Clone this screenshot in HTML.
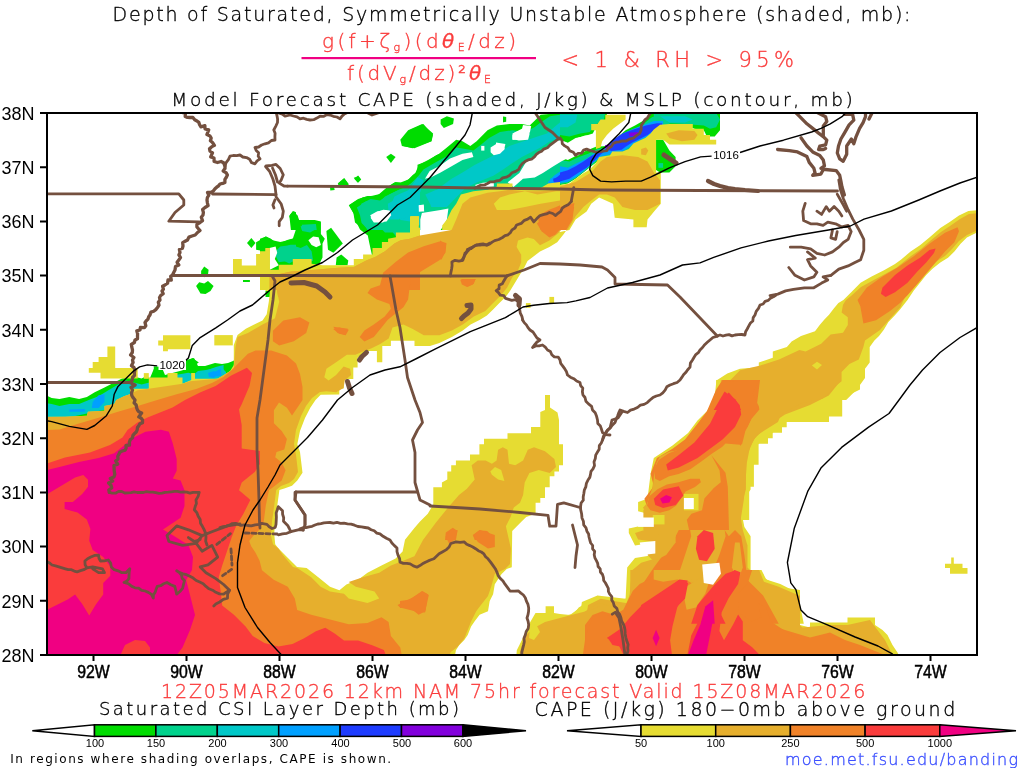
<!DOCTYPE html>
<html><head><meta charset="utf-8"><title>CSI Banding</title>
<style>
html,body{margin:0;padding:0;background:#fff;}
svg{display:block;}
text{font-family:"Liberation Sans",sans-serif;}
.h{font-family:"DejaVu Sans","Liberation Sans",sans-serif;font-weight:200;stroke-width:0.35;}
.t.h{stroke:#000;}
.r.h{stroke:#fa3c3c;}
.b4{font-family:"DejaVu Sans","Liberation Sans",sans-serif;font-weight:400;}
.t{fill:#000;}
.r{fill:#fa3c3c;}
</style></head>
<body>
<svg width="1024" height="768" viewBox="0 0 1024 768">
<defs><clipPath id="mc"><rect x="47" y="113" width="930" height="542"/></clipPath></defs>
<rect x="0" y="0" width="1024" height="768" fill="#fff"/>

<g id="map" clip-path="url(#mc)">
<!--CSI-->
<polygon fill="#00dc00" points="260.0,238.8 266.2,236.4 272.5,240.3 280.3,241.9 288.1,240.3 292.8,238.8 295.9,229.4 291.2,220.0 289.7,215.3 292.8,211.4 297.5,215.3 299.1,220.0 314.7,220.0 320.9,221.6 320.9,234.1 324.8,238.8 322.5,243.4 322.5,257.5 319.4,263.8 311.6,270.0 260.0,270.0"/>
<polygon fill="#00dc00" points="326.4,230.9 331.1,227.8 342.8,243.4 333.4,252.8 328.0,249.7"/>
<polygon fill="#00dc00" points="336.6,257.5 341.2,254.4 348.3,260.6 347.5,265.3 335.8,265.3"/>
<polygon fill="#00dc00" points="338.1,183.3 344.4,178.6 348.3,184.1 345.2,188.0 339.7,187.2"/>
<polygon fill="#00dc00" points="353.8,177.8 358.4,176.2 360.8,179.4 357.7,182.5"/>
<polygon fill="#00dc00" points="349.1,205.2 355.3,201.2 363.1,197.3 372.5,195.8 381.9,193.4 389.7,185.6 394.4,182.5 400.6,182.5 408.4,179.4 413.1,174.7 420.0,171.6 420.0,279.4 372.5,257.5 369.4,243.4 367.8,235.6 360.0,229.4 355.3,220.0 353.8,213.8"/>
<polygon fill="#00dc00" points="251.4,237.9 255.5,242.9 251.4,247.9 247.0,242.9"/>
<polygon fill="#00dc00" points="256.1,242.2 260.5,239.8 265.5,236.6 270.5,238.5 275.5,242.2 280.5,242.9 288.0,239.8 293.0,238.5 296.0,238.5 296.0,266.0 279.2,264.8 278.0,261.0 274.2,256.0 274.2,247.2 270.5,246.0 265.5,248.5 260.5,250.4 256.1,249.8"/>
<polygon fill="#00dc00" points="293.0,211.0 296.0,212.2 296.0,228.5 293.0,226.0 289.2,216.0"/>
<polygon fill="#00dc00" points="201.1,271.0 204.2,266.6 208.6,269.8 208.0,274.8 204.2,277.2 201.1,274.8"/>
<polygon fill="#00dc00" points="196.1,286.0 199.2,282.2 204.2,283.5 208.0,281.0 213.6,286.0 210.5,291.0 205.5,294.1 200.5,293.5"/>
<polygon fill="#00dc00" points="243.0,280.0 249.9,280.0 249.9,282.0 243.0,282.0"/>
<polygon fill="#00dc00" points="265.5,291.0 271.8,291.0 271.8,297.0 265.5,297.0"/>
<polygon fill="#00dc00" points="40.0,394.2 45.9,395.2 51.7,398.1 59.5,399.1 69.3,397.1 79.1,399.1 86.9,397.1 94.7,392.3 104.5,387.4 114.2,382.5 122.0,378.6 133.8,376.6 141.6,378.6 145.5,376.6 149.4,378.6 151.3,378.6 240.0,378.6 240.0,398.1 40.0,429.4"/>
<polygon fill="#00dc00" points="141.6,380.0 145.5,376.6 150.0,378.0 153.8,369.0 162.5,369.0 165.0,375.0 176.0,372.0 183.6,370.0 186.0,360.0 194.0,358.0 198.0,366.0 205.0,366.0 215.0,363.0 222.0,364.0 228.0,363.0 233.0,361.0 240.0,357.0 240.0,395.0 141.6,395.0"/>
<polygon fill="#00dc00" points="153.8,366.2 162.5,366.9 162.5,375.0 153.8,375.0"/>
<polygon fill="#00dc00" points="186.9,361.2 192.5,358.1 198.8,362.5 195.0,365.0 190.0,365.0 188.8,372.5 182.5,371.2"/>
<polygon fill="#00dc00" points="560.0,113.1 606.9,113.1 606.9,120.9 595.9,127.2 592.8,133.4 583.4,136.6 575.6,138.1 567.8,142.8 560.0,139.7"/>
<polygon fill="#00dc00" points="560.0,156.9 567.8,160.0 577.2,155.3 586.6,150.6 595.9,146.7 606.9,145.9 614.7,139.7 625.6,130.3 635.0,125.6 642.8,120.9 650.6,114.7 660.0,113.1 669.4,113.1 669.4,127.2 660.0,128.8 653.8,133.4 647.5,138.1 638.1,142.8 630.3,149.1 622.5,153.8 611.6,156.9 599.1,160.0 591.2,166.2 583.4,172.5 575.6,178.8 567.8,183.4 560.0,185.0"/>
<polygon fill="#00dc00" points="647.5,113.1 720.0,113.1 720.0,130.3 714.7,136.6 706.9,136.6 703.8,130.3 694.4,128.8 685.0,124.8 669.4,124.1 660.0,125.6 653.8,127.2"/>
<polygon fill="#00dc00" points="655.3,139.7 663.1,139.7 669.4,150.6 675.6,156.9 675.6,166.2 669.4,172.5 660.0,172.5 655.3,169.4"/>
<polygon fill="#00dc00" points="401.6,139.7 409.4,130.3 423.4,124.1 432.8,135.0 431.2,141.2 412.5,148.3 403.1,145.9"/>
<polygon fill="#00dc00" points="440.6,119.4 446.9,116.2 453.9,118.6 453.1,124.1 443.8,128.0 440.6,124.1"/>
<polygon fill="#00dc00" points="501.6,116.2 506.2,117.0 506.2,121.7 502.3,122.5"/>
<polygon fill="#00dc00" points="400.0,185.0 409.4,178.8 415.6,172.5 418.8,164.7 428.1,160.0 439.1,153.8 446.9,147.5 456.2,139.7 462.5,141.2 470.3,145.9 476.6,141.2 482.8,135.0 487.5,130.3 496.9,125.6 509.4,124.1 521.9,124.1 529.7,125.6 535.9,119.4 540.6,114.7 560.0,113.1 560.0,230.0 400.0,230.0"/>
<polygon fill="#00dc00" points="400.3,139.7 408.1,130.3 422.2,124.1 433.1,133.4 431.6,141.2 414.4,148.3 401.9,145.9"/>
<polygon fill="#00dc00" points="386.2,156.9 390.9,153.8 395.6,156.9 390.9,163.1"/>
<polygon fill="#00dc00" points="354.2,178.8 358.1,175.6 361.2,179.5 358.1,182.7"/>
<polygon fill="#00dc00" points="337.8,183.4 344.1,178.0 348.8,184.2 345.6,188.1 339.4,187.3"/>
<polygon fill="#00dc00" points="330.0,187.3 333.9,186.6 334.7,190.0 330.3,190.5"/>
<polygon fill="#00dc00" points="348.8,205.3 358.1,199.1 367.5,195.9 376.9,195.9 386.2,188.1 395.6,181.9 405.0,183.4 409.7,178.8 417.5,172.5 417.5,164.7 426.9,161.6 436.2,155.3 440.0,153.8 440.0,230.0 364.4,230.0 355.0,222.5 353.4,213.1"/>
<polygon fill="#00dc00" points="289.4,216.2 294.1,211.6 297.2,216.2 298.8,220.9 317.5,220.9 320.6,222.5 320.6,230.0 290.9,230.0"/>
<polygon fill="#00d28c" points="274.1,252.8 280.3,246.6 291.2,245.0 300.6,248.1 306.9,245.0 311.6,251.2 313.1,260.6 306.9,263.8 291.2,260.6 278.8,262.2"/>
<polygon fill="#00d28c" points="300.6,226.2 314.7,224.7 315.5,229.4 310.0,232.5 302.2,230.9"/>
<polygon fill="#00d28c" points="356.9,207.5 366.2,201.2 378.8,202.8 385.0,196.6 394.4,191.9 408.4,185.6 416.2,179.4 420.0,177.8 420.0,263.8 392.8,232.5 385.0,232.5 378.8,226.2 375.6,229.4 367.8,229.4 361.6,223.1 360.0,215.3"/>
<polygon fill="#00d28c" points="274.2,253.5 280.5,248.5 290.5,244.8 296.0,244.8 296.0,259.8 289.2,263.5 284.2,261.0 278.0,257.2"/>
<polygon fill="#00d28c" points="560.0,113.1 605.3,113.1 603.8,119.4 594.4,125.6 589.7,131.9 580.3,133.4 569.4,136.6 560.0,135.0"/>
<polygon fill="#00d28c" points="560.0,160.0 569.4,161.6 578.8,156.9 588.1,153.8 597.5,149.1 606.9,147.5 616.2,141.2 627.2,132.7 636.6,128.0 644.4,123.3 652.2,117.0 661.6,114.7 669.4,114.7 669.4,126.4 660.0,128.0 653.8,132.7 647.5,137.3 638.1,142.0 630.3,148.3 622.5,153.0 611.6,156.1 599.1,159.2 591.2,165.5 583.4,171.7 575.6,178.0 567.8,182.7 560.0,184.2"/>
<polygon fill="#00d28c" points="653.8,113.1 716.2,113.1 720.0,119.4 716.2,127.2 710.0,128.8 703.8,125.6 685.0,124.1 666.2,123.3 660.0,124.8 653.8,119.4"/>
<polygon fill="#00d28c" points="658.4,163.1 663.1,163.1 663.1,167.8 658.4,167.8"/>
<polygon fill="#00d28c" points="400.0,191.2 410.9,183.4 418.8,175.6 423.4,169.4 434.4,163.1 445.3,156.9 456.2,147.5 465.6,149.1 473.4,150.6 481.2,144.4 489.1,138.1 500.0,131.9 512.5,130.3 525.0,131.9 534.4,127.2 540.6,122.5 550.0,116.2 560.0,114.7 560.0,219.4 400.0,230.0"/>
<polygon fill="#00d28c" points="361.2,203.8 370.6,199.1 380.0,200.6 389.4,194.4 398.8,189.7 408.1,188.1 417.5,180.3 426.9,175.6 436.2,172.5 440.0,170.9 440.0,230.0 367.5,230.0 361.2,219.4"/>
<polygon fill="#00d28c" points="301.9,224.8 315.9,224.1 316.7,230.0 301.9,230.0"/>
<polygon fill="#00c8c8" points="394.4,196.6 400.6,193.4 408.4,190.3 416.2,179.4 420.0,177.8 420.0,224.7 410.0,221.6 400.6,220.0 395.9,212.2 391.2,204.4"/>
<polygon fill="#00c8c8" points="176.0,378.0 184.0,374.0 192.0,376.0 198.0,371.0 206.0,370.0 215.0,368.0 222.0,368.0 226.0,372.0 226.0,385.0 176.0,385.0"/>
<polygon fill="#00c8c8" points="40.0,402.0 51.7,404.0 59.5,405.9 69.3,404.0 79.1,404.0 88.8,400.1 98.6,396.2 108.4,390.3 118.1,384.5 125.9,380.5 133.8,382.5 141.6,384.5 149.4,382.5 157.2,384.5 176.7,374.7 188.4,372.7 196.2,374.7 206.0,370.8 215.8,366.9 223.6,364.9 223.6,384.5 40.0,423.5"/>
<polygon fill="#00c8c8" points="560.0,114.7 577.2,114.7 575.6,122.5 567.8,127.2 560.0,127.2"/>
<polygon fill="#00c8c8" points="660.0,116.2 685.0,116.2 692.8,119.4 685.0,122.5 669.4,122.5"/>
<polygon fill="#00c8c8" points="428.1,197.5 439.1,188.1 451.6,178.8 462.5,172.5 475.0,164.7 487.5,158.4 500.0,152.2 509.4,145.9 518.8,142.8 528.1,139.7 537.5,136.6 546.9,133.4 556.2,125.6 560.0,122.5 560.0,138.1 550.0,141.2 540.6,147.5 531.2,152.2 521.9,156.9 512.5,163.1 503.1,169.4 493.8,175.6 478.1,181.9 465.6,188.1 456.2,197.5 446.9,206.9 431.2,206.9"/>
<polygon fill="#00c8c8" points="400.0,197.5 406.2,194.4 412.5,203.8 409.4,216.2 400.0,219.4"/>
<polygon fill="#00c8c8" points="387.8,203.8 398.8,197.5 411.2,188.1 417.5,177.2 423.8,180.3 420.6,191.2 414.4,203.8 405.0,213.1 398.8,219.4 389.4,219.4"/>
<polygon fill="#00c8c8" points="425.3,194.4 436.2,189.7 440.0,191.2 440.0,203.8 430.0,203.8"/>
<polygon fill="#00a0ff" points="208.0,373.0 214.0,371.0 218.0,374.0 214.0,378.0 209.0,377.0"/>
<polygon fill="#00a0ff" points="92.7,402.0 98.6,395.2 104.5,394.2 104.5,402.0 98.6,407.9 91.8,407.9"/>
<polygon fill="#00a0ff" points="69.3,409.5 84.9,408.9 84.9,411.8 69.3,411.8"/>
<polygon fill="#00a0ff" points="214.8,371.8 220.7,368.8 221.6,375.7 215.8,376.6"/>
<polygon fill="#00a0ff" points="560.0,166.2 567.8,167.8 577.2,163.1 586.6,158.4 595.9,152.2 603.8,149.8 611.6,141.2 622.5,133.4 633.4,128.8 644.4,124.8 653.8,120.9 663.1,120.9 663.1,127.2 656.9,129.5 650.6,134.2 642.8,138.9 635.0,142.8 628.8,147.5 622.5,151.4 611.6,153.8 600.6,156.9 592.8,163.1 585.0,170.2 577.2,176.4 567.8,181.9 560.0,182.7"/>
<polygon fill="#00a0ff" points="550.0,178.8 560.0,175.6 560.0,183.4 551.6,183.4"/>
<polygon fill="#00a0ff" points="547.6,182.3 554.6,175.3 561.6,170.6 566.3,167.0 566.3,177.6 559.3,183.5 551.0,185.8"/>
<polygon fill="#1e3cff" points="560.0,172.5 567.8,170.2 575.6,166.2 583.4,161.6 591.2,156.1 600.6,151.4 606.9,149.1 613.1,139.7 622.5,133.4 633.4,129.5 645.9,125.6 656.9,123.3 662.3,123.3 661.6,127.2 653.8,130.3 647.5,135.0 638.1,139.7 631.9,142.8 625.6,146.7 621.7,149.8 611.6,150.9 606.9,149.8 600.6,154.5 594.4,160.8 586.6,167.8 578.8,172.5 569.4,178.8 560.0,181.6"/>
<polygon fill="#1e3cff" points="553.1,178.8 560.0,176.4 560.0,182.7 553.9,182.2"/>
<polygon fill="#1e3cff" points="553.4,180.0 559.3,175.3 564.0,171.8 564.0,178.8 558.0,182.3 554.0,182.3"/>
<polygon fill="#8200dc" points="628.8,132.7 638.1,131.9 638.1,135.8 629.5,136.2"/>
<polygon fill="#8200dc" points="605.0,145.2 610.0,144.1 610.3,148.8 605.6,149.4"/>
<polygon fill="#ffffff" points="308.4,240.3 313.1,236.4 318.6,237.2 320.9,245.0 316.2,247.3 311.6,245.0"/>
<polygon fill="#ffffff" points="269.4,248.1 275.6,246.6 277.2,252.8 274.8,259.1 278.8,265.3 269.4,270.0"/>
<polygon fill="#ffffff" points="370.2,215.3 375.6,212.2 383.4,209.8 389.7,210.6 391.2,215.3 386.6,221.6 378.8,222.3 372.5,220.0"/>
<polygon fill="#ffffff" points="425.0,178.8 429.7,170.9 439.1,166.2 450.0,158.4 462.5,153.8 471.9,152.2 473.4,156.9 462.5,160.0 451.6,166.2 440.6,172.5 431.2,177.2"/>
<polygon fill="#ffffff" points="490.6,147.5 496.9,143.6 503.1,144.4 504.7,149.1 500.0,153.8 493.8,155.3 490.6,152.2"/>
<polygon fill="#ffffff" points="512.5,133.4 521.9,128.8 529.7,133.4 528.1,139.7 518.8,140.5 512.5,138.9"/>
<polygon fill="#ffffff" points="481.2,145.9 484.4,145.9 484.4,150.6 481.2,150.6"/>
<polygon fill="#ffffff" points="507.7,182.3 519.4,173.0 526.5,161.2 537.0,154.2 547.6,147.2 557.0,140.1 562.0,141.0 568.7,143.6 578.0,137.8 585.0,135.4 595.6,134.9 595.6,144.8 589.8,147.2 585.0,150.7 578.0,155.4 571.0,156.5 561.6,161.2 552.2,167.0 542.9,173.0 534.7,177.6 523.0,178.8 513.6,187.0"/>
<polygon fill="#ffffff" points="512.4,135.4 514.0,133.0 521.8,129.6 523.0,124.9 531.2,126.0 530.0,132.0 525.3,139.0 512.4,140.1"/>
<polygon fill="#ffffff" points="496.0,114.0 503.0,114.0 503.0,123.7 496.0,123.7"/>
<polygon fill="#ffffff" points="496.0,142.5 505.4,144.0 504.0,150.0 496.0,153.0"/>
<polygon fill="#ffffff" points="418.8,205.3 423.4,205.3 424.2,211.6 418.8,211.6"/>
<polygon fill="#ffffff" points="421.9,213.1 431.2,211.6 440.6,210.0 448.4,208.4 446.9,219.4 443.8,225.6 440.6,230.0 420.3,230.0 420.3,219.4"/>
<polygon fill="#ffffff" points="475.0,185.0 482.8,182.7 493.8,181.9 493.8,186.6 478.1,188.1"/>
<polygon fill="#ffffff" points="370.6,217.8 376.9,211.6 386.2,210.0 389.4,214.7 383.1,222.5 373.8,222.5"/>
<polygon fill="#ffffff" points="418.8,205.3 423.8,204.5 424.1,210.8 419.1,211.6"/>
<!--/CSI-->
<!--CAPE-->
<polygon fill="#e6dc32" points="260.0,251.2 265.5,251.2 265.5,248.1 269.4,248.1 269.4,270.0 278.8,270.0 278.8,265.3 292.8,265.3 292.8,259.1 311.6,259.1 311.6,263.8 322.5,265.3 353.8,265.3 353.8,259.1 363.1,259.1 363.1,254.4 372.5,254.4 372.5,248.1 381.9,248.1 381.9,241.9 388.1,241.9 388.1,238.8 395.9,237.2 395.9,232.5 410.0,232.5 410.0,216.9 417.8,216.9 417.8,227.8 420.0,227.8 420.0,290.0 260.0,290.0"/>
<polygon fill="#e6dc32" points="233.0,259.1 241.8,259.1 241.8,265.4 256.1,265.4 256.1,254.1 265.5,254.1 265.5,248.2 269.9,248.2 269.9,269.8 279.2,269.8 279.2,264.8 293.0,264.8 293.0,259.1 296.0,259.1 296.0,297.0 273.0,297.0 271.8,291.0 265.5,291.0 265.5,283.5 261.1,283.5 261.1,277.2 270.5,276.0 233.0,274.8"/>
<polygon fill="#e6dc32" points="107.4,346.4 115.2,346.4 115.2,367.9 137.7,367.9 137.7,378.6 100.5,378.6 100.5,372.7 88.8,372.7 88.8,367.9 92.7,367.9 92.7,362.0 98.6,362.0 98.6,357.1 107.4,357.1"/>
<polygon fill="#e6dc32" points="163.0,335.2 190.4,335.2 190.4,349.3 167.9,349.3 167.9,351.2 163.0,351.2 163.0,345.4 158.2,345.4 158.2,340.5 163.0,340.5"/>
<polygon fill="#e6dc32" points="214.3,335.1 232.8,335.1 232.8,345.4 214.3,345.4"/>
<polygon fill="#e6dc32" points="148.8,377.5 167.5,377.5 167.5,373.1 177.5,373.1 177.5,377.5 182.5,377.5 182.5,383.8 191.2,380.0 191.2,373.1 195.0,373.1 195.0,378.8 217.5,378.8 223.1,376.2 230.0,371.2 233.8,365.0 235.0,355.0 236.2,340.0 242.5,340.0 242.5,392.5 130.0,392.5 130.0,388.8 148.8,388.8"/>
<polygon fill="#e6dc32" points="143.8,373.1 148.8,373.1 148.8,378.8 143.8,378.8"/>
<polygon fill="#e6dc32" points="605.3,114.7 625.6,114.7 625.6,119.4 619.4,124.1 613.1,128.8 606.9,135.0 602.2,141.2 600.6,147.5 595.9,149.1 595.9,130.3 591.2,130.3 591.2,124.1 597.5,124.1 600.6,119.4 605.3,119.4"/>
<polygon fill="#e6dc32" points="560.0,185.0 569.4,183.4 575.6,178.8 583.4,173.3 589.7,169.4 595.9,163.1 599.1,156.9 610.0,155.3 612.3,151.4 622.5,151.4 628.8,149.1 633.4,143.6 639.7,140.5 645.2,138.1 650.6,133.4 653.8,129.5 660.0,124.8 669.4,124.1 685.0,124.1 692.8,124.1 692.8,128.8 703.8,128.8 703.8,135.0 710.0,135.0 710.0,139.7 716.2,139.7 716.2,144.4 669.4,144.4 663.1,139.7 656.1,139.7 656.1,172.5 660.8,172.5 660.8,203.8 655.3,210.0 647.5,219.4 646.7,227.2 633.4,227.2 633.4,219.4 614.7,217.8 613.1,203.8 599.1,197.5 591.2,203.8 586.6,211.6 575.6,219.4 569.4,230.0 560.0,230.0"/>
<polygon fill="#e6dc32" points="442.2,230.0 442.2,225.6 446.9,219.4 451.6,210.0 456.2,203.8 460.9,194.4 473.4,191.2 487.5,189.7 496.9,186.6 496.9,183.4 512.5,183.4 512.5,188.1 515.6,188.1 518.8,188.1 525.0,188.1 540.6,188.1 548.4,183.4 560.0,181.9 560.0,230.0"/>
<polygon fill="#e6dc32" points="410.2,216.2 418.8,216.2 418.8,230.0 410.2,230.0"/>
<polygon fill="#e6dc32" points="410.5,216.2 419.1,216.2 419.1,225.6 415.9,225.6 415.9,230.0 410.5,230.0"/>
<polygon fill="#e6dc32" points="40.0,660.0 40.0,416.7 65.4,416.7 86.9,415.7 87.9,411.8 104.5,410.8 104.5,406.0 114.2,404.0 116.2,400.0 124.0,396.2 129.8,394.2 137.7,390.3 148.8,388.8 182.5,383.8 190.0,381.2 217.5,378.8 223.8,375.0 233.8,368.8 233.8,345.0 237.5,335.0 245.8,328.8 254.2,324.6 262.5,320.4 266.7,314.2 268.8,301.7 270.8,283.0 268.8,276.7 270.5,276.0 275.0,288.0 420.0,288.0 420.0,242.0 452.0,232.0 560.0,232.0 569.4,230.0 568.1,228.1 563.4,234.4 557.2,242.2 549.4,246.9 540.0,251.6 533.8,256.2 527.5,261.0 524.4,267.2 519.7,275.0 515.0,282.8 510.3,290.6 505.6,296.9 499.4,303.1 493.1,309.4 486.9,315.6 480.0,319.7 470.6,324.4 462.8,330.6 451.9,336.9 439.4,343.1 430.0,346.1 414.5,346.1 414.5,340.7 390.9,340.7 390.9,346.1 382.3,346.1 382.3,362.2 376.9,362.2 376.9,351.0 366.2,351.0 357.6,358.0 357.6,367.6 353.3,367.6 353.3,378.9 343.6,378.9 343.6,388.5 339.3,388.5 339.3,394.4 320.7,394.7 315.5,400.0 310.3,407.7 305.0,418.0 300.0,431.1 297.3,444.2 300.0,452.0 302.5,472.8 297.3,480.6 292.0,485.8 284.3,488.4 279.4,490.0 277.3,505.6 275.2,521.2 274.2,533.8 275.2,544.2 278.3,548.3 282.5,552.5 287.7,557.7 293.0,563.0 297.0,567.0 306.6,568.0 318.3,577.3 330.0,586.7 339.4,590.2 346.4,584.4 358.1,579.7 367.5,572.7 381.5,565.6 395.6,558.6 402.6,551.6 405.0,539.8 414.4,528.1 420.0,521.6 427.8,513.8 433.3,504.4 433.3,487.2 441.9,487.2 441.9,482.5 447.3,479.4 447.3,471.6 451.2,471.6 451.2,465.3 455.9,465.3 455.9,460.6 470.0,460.6 470.0,454.4 479.4,454.4 479.4,444.2 484.0,444.2 484.0,438.8 507.5,438.8 507.5,433.3 531.0,433.3 531.0,427.0 540.3,427.0 540.3,412.0 545.0,410.0 545.0,395.0 550.0,395.0 550.0,407.5 557.5,412.5 559.0,420.0 559.0,444.2 563.0,444.2 563.0,465.3 559.0,465.3 559.0,471.6 554.4,471.6 554.4,476.2 549.7,476.2 549.7,487.2 545.0,487.2 545.0,498.1 540.3,498.1 540.3,502.8 535.6,502.8 535.6,513.8 526.2,516.9 521.6,521.6 516.9,526.2 512.2,531.0 511.8,567.2 506.7,569.0 501.6,574.0 498.2,579.1 494.8,584.2 493.1,594.3 489.7,601.1 488.0,611.3 479.6,614.7 474.5,621.4 471.1,626.5 467.7,635.0 464.3,640.0 459.3,645.1 455.9,650.2 454.2,660.0"/>
<polygon fill="#e6dc32" points="549.4,296.9 554.1,296.9 554.1,303.1 549.4,303.1"/>
<polygon fill="#e6dc32" points="525.9,303.1 530.6,303.1 530.6,307.8 525.9,307.8"/>
<polygon fill="#e6dc32" points="578.8,623.8 581.9,601.9 597.5,595.6 625.6,598.8 627.2,567.5 635.0,558.1 653.8,555.0 653.8,542.5 635.0,545.6 628.8,533.1 628.8,528.4 650.6,523.8 650.6,514.4 638.1,511.2 638.1,501.9 647.5,498.8 650.6,473.8 653.8,458.1 672.5,445.6 688.1,433.1 697.5,420.6 706.9,411.2 716.2,395.6 716.2,380.0 860.0,380.0 860.0,389.4 841.2,398.8 828.8,414.4 785.0,420.6 778.8,426.9 772.5,433.1 760.0,442.5 753.8,448.8 750.6,461.2 750.6,489.4 744.4,498.8 741.2,511.2 744.4,526.9 750.6,536.2 750.6,570.6 763.1,573.8 766.2,586.2 778.8,586.2 785.0,595.6 797.5,592.5 800.6,608.1 803.8,623.8"/>
<polygon fill="#e6dc32" points="712.3,420.0 716.4,380.5 727.3,373.6 740.0,368.8 758.8,367.2 758.8,362.5 772.8,357.8 772.8,351.6 786.9,346.9 791.6,341.4 801.0,336.0 815.0,331.2 819.7,325.0 824.4,319.5 829.0,314.8 833.8,308.6 838.4,303.1 843.4,300.0 851.2,292.2 860.6,282.8 871.6,276.6 884.0,270.3 895.0,264.0 901.2,259.4 910.6,251.6 920.0,245.3 929.4,237.5 940.3,228.1 949.7,221.9 959.0,215.6 968.4,211.0 980.0,210.0 980.0,231.0 966.9,237.5 960.6,243.8 954.4,251.6 948.0,257.8 940.3,262.5 932.5,268.8 926.2,275.0 920.0,282.8 913.8,290.6 907.5,300.0 900.0,309.4 894.7,315.6 888.4,321.9 883.8,329.7 879.0,336.0 874.4,340.6 869.7,346.9 869.7,362.5 865.0,368.8 865.0,378.1 860.3,384.4 855.6,390.6 851.0,395.3 846.2,400.0 842.2,400.0 842.2,416.4 829.0,416.4 829.0,421.9 786.7,421.9 786.7,427.3 782.0,427.3 782.0,432.8 772.7,432.8 772.7,438.3 768.0,438.3 768.0,443.8 758.6,443.8 758.6,464.8 753.9,464.8 753.9,486.7 749.2,486.7 749.2,520.0 730.0,520.0 712.0,430.0"/>
<polygon fill="#e6dc32" points="945.0,563.8 951.2,563.8 951.2,557.5 953.8,557.5 953.8,563.8 962.5,563.8 962.5,568.0 967.5,568.0 967.5,573.8 950.0,573.8 950.0,568.0 945.0,568.0"/>
<polygon fill="#e6dc32" points="760.0,575.0 767.5,580.0 782.5,587.5 800.0,590.0 800.0,625.0 810.0,627.5 810.0,622.5 847.5,622.5 847.5,617.5 875.0,617.5 875.0,625.0 882.5,630.0 887.5,635.0 892.5,645.0 897.5,652.5 900.0,657.5 760.0,657.5"/>
<polygon fill="#e6dc32" points="516.0,660.0 516.8,650.2 521.9,640.0 528.7,624.8 535.5,613.0 545.6,613.0 545.6,606.2 554.0,606.2 554.0,613.0 560.0,614.0 570.0,615.0 580.0,607.5 592.5,602.5 600.0,605.0 605.0,660.0"/>
<polygon fill="#e6dc32" points="560.0,616.9 574.1,613.4 578.7,607.5 590.5,600.5 597.5,595.8 606.9,600.5 618.6,600.5 628.0,598.1 628.0,570.0 761.5,570.0 766.2,579.4 780.3,584.1 789.7,588.7 800.0,591.1 800.0,659.1 560.0,659.1"/>
<polygon fill="#e6af2d" points="269.4,276.2 291.2,271.6 311.6,270.0 338.1,267.7 353.8,266.9 366.2,260.6 375.6,256.7 385.0,251.2 394.4,243.4 400.6,240.3 410.0,238.8 420.0,235.6 420.0,290.0 269.4,290.0"/>
<polygon fill="#e6af2d" points="276.8,288.5 280.5,284.8 293.0,283.5 296.0,283.5 296.0,297.0 278.0,297.0"/>
<polygon fill="#e6af2d" points="560.0,186.6 575.6,181.9 591.2,172.5 600.6,161.6 606.9,156.9 622.5,155.3 638.1,156.9 647.5,161.6 653.8,172.5 660.0,180.3 660.0,203.8 647.5,210.0 635.0,210.0 622.5,206.9 614.7,197.5 606.9,194.4 599.1,194.4 591.2,200.6 583.4,206.9 575.6,216.2 567.8,230.0 560.0,230.0"/>
<polygon fill="#e6af2d" points="666.2,133.4 678.8,130.3 694.4,131.1 697.5,135.0 694.4,139.7 681.9,141.2 669.4,138.1"/>
<polygon fill="#e6af2d" points="641.2,149.1 645.9,147.5 648.3,150.6 645.9,155.3 641.2,154.5"/>
<polygon fill="#e6af2d" points="451.6,230.0 456.2,219.4 462.5,203.8 470.3,197.5 487.5,192.8 500.0,191.2 509.4,189.7 525.0,191.2 540.6,191.2 556.2,189.7 560.0,188.1 560.0,230.0"/>
<polygon fill="#e6af2d" points="40.0,660.0 40.0,417.0 65.4,416.7 86.9,415.7 87.9,411.8 104.5,410.8 104.5,406.0 114.2,404.0 116.2,400.0 124.0,396.2 129.8,394.2 137.7,390.3 148.8,388.8 182.5,383.8 190.0,381.2 217.5,378.8 223.8,375.0 233.8,368.8 235.4,347.5 237.5,337.0 247.9,333.0 262.5,324.6 275.0,318.3 279.2,301.7 275.0,280.8 269.4,276.2 291.2,271.6 311.6,270.0 338.1,267.7 353.8,266.9 366.2,260.6 375.6,256.7 385.0,251.2 394.4,243.4 400.6,240.3 410.0,238.8 420.0,235.6 446.0,231.0 456.0,229.0 560.0,229.0 567.8,229.0 565.0,225.0 558.8,232.8 549.4,240.6 540.0,245.3 533.8,239.0 527.5,237.5 518.0,240.6 516.6,246.9 521.2,254.7 521.2,262.5 518.0,270.3 511.9,278.1 507.2,287.5 501.0,295.3 493.1,303.1 485.3,311.0 473.8,316.6 462.8,324.4 451.9,330.6 439.4,335.3 423.8,335.3 412.8,329.0 403.4,324.4 392.5,327.5 388.7,338.6 380.2,344.0 371.6,348.3 363.0,351.5 355.4,354.7 346.9,354.7 336.1,362.2 326.4,368.7 324.3,377.3 328.6,380.5 336.1,375.1 343.6,366.5 350.0,368.7 351.1,375.1 344.7,380.5 343.6,388.0 336.1,392.3 326.4,391.2 320.0,392.0 312.0,398.0 306.0,406.0 301.0,416.0 296.0,430.0 294.0,444.0 296.0,455.0 298.0,472.0 294.0,479.0 289.0,483.0 281.0,486.0 276.2,490.0 274.2,505.6 272.0,521.2 271.0,535.8 273.0,544.2 278.3,548.3 282.5,554.6 287.7,560.8 293.0,567.0 297.2,568.0 311.2,577.3 320.6,586.7 330.0,591.4 344.0,593.7 348.7,598.4 367.5,603.1 379.2,598.4 374.5,591.4 355.8,586.7 348.7,582.0 362.8,577.3 379.2,572.7 390.9,565.6 402.6,560.9 414.4,556.2 423.0,540.0 435.6,523.1 448.1,507.5 459.0,495.0 466.9,488.8 474.7,479.4 471.6,465.3 477.8,460.6 485.6,460.6 491.9,463.8 496.6,460.6 498.1,449.7 502.8,447.3 507.5,449.7 509.0,463.8 515.3,465.3 523.1,460.6 527.8,449.7 534.0,447.3 545.0,451.2 554.4,459.0 556.0,466.9 549.7,473.1 538.8,470.0 529.4,473.1 524.7,482.5 523.1,495.0 520.0,502.8 513.8,507.5 510.6,516.9 505.9,526.2 506.7,530.0 510.9,548.6 510.0,563.9 505.0,569.0 494.8,574.0 491.4,585.9 488.0,596.0 481.3,604.5 476.2,611.3 471.1,621.4 467.7,629.9 464.3,638.4 457.6,646.8 450.8,651.9 447.4,660.0"/>
<polygon fill="#e6af2d" points="585.0,623.8 588.1,605.0 600.6,598.8 628.8,603.4 631.9,570.6 641.2,562.8 656.9,558.1 660.0,542.5 638.1,539.4 635.0,533.1 653.8,526.9 653.8,514.4 642.8,508.1 650.6,498.8 653.8,476.9 656.9,461.2 675.6,448.8 691.2,436.2 700.6,423.8 710.0,414.4 719.4,398.8 720.9,380.0 841.2,380.0 828.8,395.6 810.0,405.0 785.0,414.4 766.2,426.9 753.8,439.4 745.9,458.1 745.9,489.4 739.7,511.2 742.8,530.0 747.5,545.6 747.5,567.5 760.0,580.0 778.8,598.8 785.0,623.8"/>
<polygon fill="#e6af2d" points="712.0,430.0 716.4,391.4 730.0,380.5 740.0,370.3 760.3,365.6 779.0,359.4 799.4,350.0 805.6,351.6 821.2,343.8 830.6,334.4 843.0,332.8 847.8,325.0 847.8,317.2 841.6,312.5 843.0,304.7 846.0,300.0 851.0,296.0 861.0,287.0 872.0,281.0 885.0,274.0 896.0,268.0 911.0,256.0 921.0,249.0 930.0,241.0 941.0,232.0 950.0,226.0 960.0,219.0 969.0,214.0 980.0,213.0 980.0,229.0 967.0,235.0 959.0,241.0 952.0,249.0 945.0,256.0 937.0,261.0 930.0,267.0 923.0,274.0 917.0,281.0 911.0,289.0 905.0,297.0 900.0,307.8 890.0,318.8 880.0,330.0 865.0,340.6 863.4,346.9 858.8,359.4 849.4,364.0 841.6,371.9 841.6,381.2 833.8,387.5 822.8,398.4 802.5,403.0 781.2,414.0 778.0,421.9 765.6,429.7 756.2,436.0 750.0,446.9 746.9,462.5 745.3,484.4 743.8,500.0 740.6,520.0 725.0,520.0 712.0,440.0"/>
<polygon fill="#e6af2d" points="760.0,582.5 770.0,587.5 782.5,600.0 787.5,615.0 802.5,627.5 830.0,625.0 847.5,625.0 870.0,620.0 877.5,630.0 885.0,640.0 890.0,650.0 895.0,657.5 760.0,657.5"/>
<polygon fill="#e6af2d" points="525.0,657.5 530.0,645.0 535.0,642.5 545.0,640.0 555.0,637.5 560.0,620.0 575.0,617.5 587.5,611.2 600.0,605.0 605.0,615.0 605.0,657.5"/>
<polygon fill="#e6af2d" points="560.0,626.2 569.4,621.6 581.1,614.5 590.5,607.5 599.8,602.8 606.9,605.2 616.2,607.5 625.6,605.2 630.3,593.4 630.3,570.0 759.2,570.0 763.9,581.7 778.0,586.4 794.4,593.4 800.0,595.8 800.0,659.1 560.0,659.1"/>
<polygon fill="#e6af2d" points="520.4,650.0 525.0,636.0 534.0,628.0 545.0,622.0 560.0,618.0 575.0,614.0 591.0,610.0 600.0,606.0 600.0,657.0 519.0,657.0"/>
<polygon fill="#e6dc32" points="493.8,203.8 500.0,197.5 509.4,194.4 525.0,191.2 537.5,194.4 556.2,191.2 560.0,191.2 560.0,200.6 540.6,203.8 525.0,206.9 509.4,210.0 496.9,210.0"/>
<polygon fill="#e6dc32" points="490.3,471.6 495.0,466.9 501.2,470.0 504.4,480.9 498.1,479.4 491.9,474.7"/>
<polygon fill="#e6dc32" points="811.9,365.6 817.0,361.7 822.0,365.0 817.0,369.5"/>
<polygon fill="#e6dc32" points="530.0,628.0 536.0,624.0 540.0,632.0 534.0,640.0 529.0,638.0"/>
<polygon fill="#f08228" points="381.9,290.0 385.0,279.4 392.8,266.9 400.6,259.1 410.0,252.8 420.0,249.7 420.0,290.0"/>
<polygon fill="#f08228" points="560.0,210.0 569.4,203.8 574.1,206.9 572.5,219.4 566.2,230.0 560.0,230.0"/>
<polygon fill="#f08228" points="537.5,216.2 548.4,210.0 556.2,206.9 560.0,205.3 560.0,230.0 540.6,230.0"/>
<polygon fill="#f08228" points="40.0,660.0 40.0,430.4 59.5,429.4 79.0,423.5 98.6,417.7 118.0,411.8 137.7,406.0 157.2,400.0 176.7,394.2 196.2,389.0 211.9,383.0 223.6,377.0 231.2,370.4 241.7,360.0 247.9,353.8 255.6,350.4 271.2,350.4 286.9,355.6 296.0,363.4 300.0,373.9 302.5,386.9 302.5,400.0 297.3,407.7 292.0,415.5 286.9,407.7 279.0,402.5 273.9,410.3 273.9,423.3 281.7,431.1 286.9,439.0 284.3,449.4 276.5,452.0 275.2,457.2 281.7,462.4 285.6,470.2 281.7,480.6 272.0,488.0 269.0,490.0 265.8,505.6 263.8,521.2 259.6,529.6 253.3,535.8 249.2,541.0 251.2,546.2 255.4,552.5 259.6,560.8 262.0,570.3 273.7,579.7 287.8,586.7 294.8,598.4 297.2,610.1 311.2,614.8 330.0,619.5 348.7,624.2 367.5,623.0 381.5,617.2 388.6,621.9 390.9,635.9 400.3,647.6 402.6,660.0"/>
<polygon fill="#f08228" points="445.8,532.5 452.8,527.8 457.5,530.9 455.9,540.0 445.0,540.0"/>
<polygon fill="#f08228" points="473.1,535.6 479.4,530.2 487.2,530.9 493.4,537.2 493.4,540.0 474.7,540.0"/>
<polygon fill="#f08228" points="400.0,601.1 410.2,599.4 422.0,591.0 427.9,594.3 425.4,611.3 418.6,614.7 410.2,607.9 400.0,607.9"/>
<polygon fill="#f08228" points="445.7,536.8 450.8,530.0 457.6,530.0 454.2,540.2 449.1,543.5"/>
<polygon fill="#f08228" points="472.8,535.1 479.6,530.0 494.8,535.1 494.8,546.9 488.0,548.6 477.9,541.9"/>
<polygon fill="#f08228" points="383.1,272.8 395.6,261.9 408.1,252.5 423.8,246.2 439.4,241.6 446.4,243.1 445.6,252.5 439.4,260.3 423.8,269.7 411.2,277.5 409.7,286.9 408.1,299.4 403.4,307.2 395.6,313.4 387.8,319.7 381.6,327.5 373.8,336.9 364.4,341.6 359.7,336.9 364.4,330.6 373.8,324.4 384.7,316.6 390.9,308.8 389.4,304.1 376.9,299.4 367.5,293.1 370.6,288.4 380.0,285.3 381.6,279.1"/>
<polygon fill="#f08228" points="333.1,329.1 339.4,327.5 348.8,329.8 345.6,335.3 339.4,333.8"/>
<polygon fill="#f08228" points="461.2,279.1 475.3,279.1 473.8,283.8 467.5,286.9 462.8,283.8"/>
<polygon fill="#f08228" points="536.9,223.4 549.4,212.5 561.9,206.2 574.4,203.1 572.8,212.5 565.0,223.4 555.6,234.4 549.4,237.5 541.6,231.2"/>
<polygon fill="#f08228" points="440.0,240.6 446.2,243.8 444.7,253.1 441.6,259.4 440.0,259.4"/>
<polygon fill="#f08228" points="460.3,279.7 475.9,278.9 472.8,284.4 466.6,286.7 461.9,284.4"/>
<polygon fill="#f08228" points="272.9,330.8 283.3,320.4 300.0,317.3 309.4,322.5 306.2,332.9 293.8,341.2 279.2,345.4 272.9,341.2"/>
<polygon fill="#f08228" points="333.3,326.7 347.9,328.8 345.8,335.0 337.5,332.9"/>
<polygon fill="#f08228" points="397.5,605.0 412.5,597.5 422.5,591.2 428.8,595.0 425.0,612.5 415.0,611.2 400.0,607.5"/>
<polygon fill="#f08228" points="716.2,389.4 722.5,380.0 760.0,380.0 756.9,405.0 747.5,426.9 735.0,442.5 725.6,455.0 722.5,473.8 728.8,489.4 728.8,511.2 722.5,526.9 728.8,536.2 735.0,530.0 741.2,536.2 744.4,555.0 747.5,580.0 763.1,595.6 778.8,623.8 631.9,623.8 628.8,605.0 641.2,586.2 653.8,567.5 663.1,555.0 672.5,542.5 678.8,530.0 678.8,517.5 663.1,514.4 647.5,508.1 644.4,498.8 653.8,486.2 650.6,473.8 656.9,458.1 672.5,448.8 685.0,439.4 697.5,423.8 706.9,411.2"/>
<polygon fill="#f08228" points="857.5,300.0 866.9,287.5 882.5,276.6 898.0,267.2 913.8,256.2 929.4,243.8 945.0,232.8 957.5,227.3 959.0,231.2 954.4,242.2 945.0,251.6 935.6,262.5 926.2,273.4 916.9,284.4 907.5,295.3 900.0,303.0 890.0,311.0 876.0,320.3 863.4,323.4 860.3,306.2"/>
<polygon fill="#f08228" points="712.3,420.0 714.0,395.0 722.0,382.0 740.0,381.2 758.8,381.2 752.5,393.8 758.8,406.2 759.4,409.4 751.6,418.8 745.3,431.2 742.2,443.8 734.4,451.6 720.0,440.0"/>
<polygon fill="#f08228" points="760.0,605.0 765.0,615.0 770.0,625.0 785.0,630.0 810.0,637.5 830.0,632.5 845.0,640.0 860.0,645.0 885.0,655.0 885.0,657.5 760.0,657.5"/>
<polygon fill="#f08228" points="585.0,625.0 592.5,615.0 602.5,611.2 615.0,615.0 622.5,625.0 625.0,645.0 625.0,657.5 582.5,657.5 585.0,640.0"/>
<polygon fill="#f08228" points="585.8,659.1 585.8,635.6 592.8,616.9 602.2,612.2 611.6,616.9 623.3,609.8 632.7,591.1 639.7,584.1 649.1,579.4 658.4,570.0 752.2,570.0 747.5,584.1 738.1,593.4 738.1,612.2 752.2,621.6 761.5,616.9 756.9,602.8 766.2,607.5 770.9,621.6 785.0,630.9 800.0,640.3 800.0,659.1"/>
<polygon fill="#e6af2d" points="688.1,517.5 700.6,511.2 722.5,514.4 725.6,536.2 719.4,555.0 713.1,570.6 703.8,580.0 691.2,583.1 678.8,573.8 685.0,555.0 691.2,536.2"/>
<polygon fill="#e6af2d" points="663.1,526.9 675.6,526.9 675.6,542.5 666.2,555.0 653.8,561.2 647.5,555.0 653.8,542.5"/>
<polygon fill="#e6af2d" points="735.0,542.5 739.7,542.5 742.8,567.5 738.1,580.0 731.9,567.5"/>
<polygon fill="#e6af2d" points="653.7,570.0 691.2,570.0 691.2,581.7 677.2,579.4 663.1,581.7 653.7,579.4"/>
<polygon fill="#e6af2d" points="686.6,586.4 700.6,577.0 710.0,579.4 705.3,593.4 695.9,607.5 686.6,609.8 684.2,598.1"/>
<polygon fill="#e6af2d" points="643.4,530.0 643.4,510.3 648.1,500.9 649.3,496.3 652.8,486.9 654.0,475.2 656.3,463.4 659.8,456.4 669.2,451.7 683.3,449.4 688.0,444.7 690.3,440.0 740.0,440.0 740.0,530.0"/>
<polygon fill="#f08228" points="655.2,478.7 654.0,469.3 658.7,459.9 669.2,452.9 685.6,447.0 690.3,440.0 740.0,440.0 740.0,444.7 725.5,443.5 722.0,447.0 711.4,454.1 702.0,461.1 690.3,469.3 678.6,474.0 669.2,476.3 659.8,481.0"/>
<polygon fill="#f08228" points="647.0,505.6 649.3,496.3 657.5,489.2 666.9,484.5 678.6,482.2 690.3,478.7 699.7,478.7 700.9,482.2 695.0,486.9 685.6,491.6 680.9,498.6 676.3,505.6 669.2,510.3 659.8,512.7 650.5,510.3"/>
<polygon fill="#f08228" points="711.4,455.2 720.8,467.0 725.5,472.8 727.8,486.9 729.0,530.0 689.1,530.0 686.8,519.7 691.5,513.8 702.0,510.3 704.4,498.6 713.8,488.0 720.8,482.2 719.6,470.5"/>
<polygon fill="#e6dc32" points="683.9,493.9 698.5,493.9 698.5,510.3 683.9,510.3"/>
<polygon fill="#e6dc32" points="652.8,515.0 664.5,515.0 664.5,524.4 652.8,524.4"/>
<polygon fill="#fa3c3c" points="47.0,463.4 65.0,457.5 90.0,452.5 110.0,445.0 122.5,437.5 127.5,430.0 137.5,422.5 147.5,417.5 160.0,412.5 172.5,407.5 185.0,400.0 200.0,392.5 215.6,386.0 231.2,375.6 246.9,367.8 252.0,373.0 249.5,386.0 241.7,404.3 239.0,409.5 241.7,425.0 241.7,448.5 260.0,451.0 260.0,464.0 254.7,472.0 241.7,482.4 239.0,490.2 248.2,498.0 250.3,500.0 243.3,514.0 236.2,525.8 231.6,537.5 226.9,551.6 222.2,565.6 218.7,577.3 221.0,593.7 222.2,605.5 233.9,614.8 245.6,626.6 252.7,636.0 264.4,643.0 278.4,646.5 292.5,644.1 304.2,638.3 315.9,631.2 325.3,627.7 334.7,633.6 344.0,640.6 358.1,640.6 372.2,645.3 383.9,650.0 386.2,656.0 47.0,656.0"/>
<polygon fill="#fa3c3c" points="666.2,464.4 678.8,455.0 694.4,442.5 710.0,423.8 722.5,398.8 728.8,392.5 739.7,405.0 741.2,414.4 735.0,426.9 722.5,439.4 710.0,448.8 697.5,458.1 678.8,467.5 667.8,470.6"/>
<polygon fill="#fa3c3c" points="653.8,498.8 663.1,489.4 678.8,486.2 683.4,495.6 675.6,505.0 663.1,508.1 655.3,505.0"/>
<polygon fill="#fa3c3c" points="697.5,536.2 703.8,530.0 713.1,533.1 714.7,548.8 706.9,561.2 699.1,559.7 695.9,548.8"/>
<polygon fill="#fa3c3c" points="635.0,623.8 641.2,605.0 660.0,592.5 678.8,580.0 688.1,583.1 685.0,598.8 672.5,611.2 666.2,623.8"/>
<polygon fill="#fa3c3c" points="691.2,623.8 697.5,605.0 713.1,586.2 725.6,573.8 735.0,570.6 733.4,586.2 722.5,598.8 719.4,611.2 725.6,623.8"/>
<polygon fill="#fa3c3c" points="880.9,293.8 882.5,287.5 895.0,275.0 907.5,265.6 920.0,257.8 929.4,250.0 935.6,248.4 934.0,253.0 926.2,262.5 916.9,271.9 907.5,282.8 895.0,292.2 885.6,296.9"/>
<polygon fill="#fa3c3c" points="713.7,410.0 724.6,391.4 735.5,399.6 741.0,410.0"/>
<polygon fill="#fa3c3c" points="607.5,637.5 617.5,635.0 625.0,640.0 625.0,647.5 612.5,645.0"/>
<polygon fill="#fa3c3c" points="606.9,638.0 620.9,628.6 630.3,616.9 639.7,607.5 653.7,598.1 667.8,588.7 679.5,579.4 687.7,580.5 684.2,593.4 677.2,607.5 672.5,626.2 670.1,640.3 672.5,659.1 625.6,659.1 618.6,645.0"/>
<polygon fill="#fa3c3c" points="686.6,659.1 691.2,635.6 700.6,616.9 710.0,600.5 719.4,588.7 728.7,574.7 734.6,570.0 740.5,572.3 738.1,584.1 728.7,598.1 721.7,612.2 719.4,630.9 724.0,640.3 733.4,623.9 738.1,614.5 742.8,621.6 742.8,640.3 752.2,647.3 763.9,659.1"/>
<polygon fill="#f00082" points="40.0,471.6 59.5,466.9 79.0,462.0 98.6,458.0 114.2,453.2 124.0,445.4 133.8,437.6 145.5,431.7 161.0,429.8 168.9,431.7 172.8,443.4 176.7,459.0 176.7,470.8 172.8,478.6 180.6,480.5 184.5,490.3 184.5,505.9 180.6,517.7 163.0,529.4 172.8,535.2 188.4,545.0 193.0,557.0 192.0,570.0 186.2,580.0 190.0,595.0 195.0,615.0 190.0,630.0 182.5,647.5 176.0,656.0 150.0,656.0 150.0,647.5 145.0,641.0 135.0,640.0 125.0,645.0 120.0,656.0 40.0,656.0"/>
<polygon fill="#f00082" points="660.0,498.8 666.2,495.0 671.9,497.2 669.4,502.5 662.5,503.4"/>
<polygon fill="#f00082" points="700.6,623.8 705.3,606.6 713.1,600.3 714.7,623.8"/>
<polygon fill="#f00082" points="686.6,659.1 693.6,640.3 700.6,623.9 707.6,609.8 712.3,602.8 713.5,616.9 710.0,635.6 705.3,659.1"/>
<polygon fill="#f00082" points="652.6,638.0 656.1,629.8 659.6,638.0 656.1,646.2"/>
<polygon fill="#fa3c3c" points="40.0,498.5 51.7,491.5 63.4,484.5 75.1,477.5 83.3,475.1 88.0,479.8 88.0,486.8 82.2,493.9 72.8,502.0 64.6,502.0 64.6,509.1 77.5,512.6 86.8,519.6 90.4,529.0 89.2,540.7 92.7,550.0 103.2,557.1 110.3,566.5 110.3,575.8 103.2,582.9 103.2,594.6 96.2,603.9 89.2,615.6 82.2,603.9 75.1,594.6 68.1,599.3 58.7,603.9 40.0,613.3"/>
<polygon fill="#ffffff" points="683.9,498.0 693.8,498.0 693.8,509.1 683.9,509.1"/>
<polygon fill="#ffffff" points="702.2,564.4 719.4,562.8 720.9,573.8 713.1,584.7 703.8,583.1"/>
<polygon fill="#ffffff" points="638.1,517.5 653.8,517.5 653.8,526.9 638.1,526.9"/>
<polygon fill="#ffffff" points="639.7,542.5 655.3,540.9 655.3,553.4 642.8,555.0"/>
<!--/CAPE-->
<!--BORDERS-->
<g fill="none" stroke="#74503f" stroke-width="2.8" stroke-linejoin="round" stroke-linecap="round">
<path d="M109.3,492.3 L112.4,493.2 L115.5,493.2 L118.6,491.4 L121.7,491.5 L124.8,493.0 L127.9,492.8 L131.0,492.6 L134.1,491.9 L137.2,492.5 L140.3,492.5 L143.4,492.5 L146.5,491.6 L149.6,492.2 L152.7,492.1 L155.8,492.7 L158.9,493.3 L162.0,493.2 L165.1,492.4 L168.2,492.2 L171.3,491.8 L174.4,491.4 L177.5,491.4 L180.6,492.2 L183.7,491.9 L186.8,492.1 L189.9,493.1 L193.0,492.4 L196.1,492.4 L199.2,492.3 L198.1,496.4 L196.0,500.0 L196.4,503.4 L195.2,506.6 L194.3,509.8 L196.9,512.7 L198.2,516.3 L200.2,519.6 L200.5,523.2 L202.4,526.3 L204.0,529.4 L205.6,533.1 L206.0,537.2 L205.7,541.2 L207.0,545.0"/>
<path d="M40.0,193.8 L178.8,193.8 L183.8,200.0 L183.8,205.0 L175.0,212.5 L168.8,221.2 L198.8,221.8"/>
<path d="M40.0,382.5 L131.5,382.5"/>
<path d="M225.0,166.2 L226.1,162.6 L228.4,159.6 L230.0,156.2 L233.3,155.5 L236.7,155.6 L240.0,155.0 L242.8,157.0 L246.5,157.6 L249.6,159.3 L251.6,162.7 L255.0,163.8 L257.1,160.9 L260.0,158.8 L258.2,156.2 L258.6,152.7 L256.2,150.4 L255.0,147.5 L258.6,147.0 L261.6,145.0 L265.0,143.8 L268.5,142.8 L271.4,140.5 L275.0,140.0 L274.9,136.6 L275.1,133.2 L273.8,130.0 L275.7,126.3 L277.5,122.5 L277.6,119.1 L277.0,115.8 L276.2,112.5"/>
<path d="M276.2,112.5 L279.4,113.1 L282.4,114.1 L285.0,116.2 L290.0,115.0 L293.4,116.0 L297.0,116.8 L300.0,118.8 L303.5,118.2 L306.7,119.4 L310.0,120.0 L313.7,119.7 L316.9,118.1 L320.0,116.2 L323.4,116.4 L326.6,114.7 L330.0,115.0 L333.3,116.3 L336.9,117.0 L340.0,118.8 L342.0,116.1 L344.4,113.9 L347.5,112.5"/>
<path d="M366.0,112.0 L372.0,115.0 L378.0,113.0"/>
<path d="M212.5,194.0 L276.0,194.6"/>
<path d="M287.5,186.2 L350.0,186.5 L420.0,187.0 L475.0,188.0 L520.0,188.5 L560.0,189.0 L600.0,190.0 L700.0,190.5 L837.5,191.0"/>
<path d="M265.6,166.5 L269.8,171.7 L272.9,179.0 L275.0,186.2 L276.0,194.6 L276.0,196.7 L281.2,204.0 L283.3,211.2 L282.3,217.5 L279.2,221.7 L279.2,225.8"/>
<path d="M266.0,166.0 L271.9,165.4 L276.0,164.4 L280.2,168.5 L283.3,174.8 L281.2,180.0 L279.2,183.1 L284.4,186.2 L287.5,186.2"/>
<path d="M272.5,168.0 L275.5,175.0 L277.5,182.0"/>
<path d="M275.0,199.8 L272.9,205.0 L274.0,208.0"/>
<path d="M172.5,275.5 L300.0,275.5 L400.0,276.0 L451.0,276.0 L507.0,275.8"/>
<path d="M507.0,275.8 L524.0,270.0 L540.0,263.5 L560.0,264.0 L580.0,265.0 L602.0,267.0 L607.5,270.0 L615.0,277.5 L615.0,284.0 L667.5,285.0 L680.0,297.0 L717.5,336.2"/>
<path d="M450.3,275.9 L450.9,272.4 L451.6,269.0 L452.1,265.5 L451.9,261.9 L455.0,260.3 L458.9,261.2 L462.8,260.3 L464.4,255.6 L466.4,252.7 L467.5,249.4 L471.0,248.6 L473.8,246.2 L476.8,244.8 L480.0,245.1 L483.1,244.7 L486.8,244.8 L490.0,243.1"/>
<path d="M461.9,260.2 L464.0,256.9 L465.0,253.1 L467.8,251.2 L469.7,248.4 L472.8,247.1 L475.8,245.4 L479.1,244.5 L483.1,243.9 L486.9,245.3 L489.7,244.0 L492.1,242.1 L494.7,240.6 L498.8,239.5 L502.5,237.5 L505.0,235.7 L508.0,234.8 L510.3,232.8 L512.0,229.9 L515.0,228.0 L516.6,225.0 L521.2,223.4 L524.4,220.3 L527.7,219.2 L530.6,217.2 L533.8,221.9 L536.8,218.6 L540.0,215.6 L543.2,214.6 L546.4,213.9 L549.4,212.5 L552.8,213.5 L555.6,215.6 L558.0,213.3 L560.7,211.3 L562.3,208.2 L565.0,206.2 L568.5,204.4 L571.2,201.6"/>
<path d="M571.2,201.6 L572.7,193.4 L573.8,187.6"/>
<path d="M475.0,188.1 L478.0,186.6 L481.0,185.1 L484.5,184.9 L487.5,183.4 L490.4,181.8 L493.8,181.9 L496.8,180.8 L500.0,180.3 L502.7,177.9 L506.3,177.2 L509.4,175.6 L512.0,172.8 L515.6,171.4 L518.8,169.4 L520.2,166.3 L522.3,163.7 L525.0,161.6 L528.1,159.9 L531.6,159.1 L534.4,156.9 L536.3,154.4 L538.7,152.6 L541.6,151.2 L543.8,149.1 L547.4,147.7 L550.1,145.0 L553.1,142.8 L556.4,140.3 L560.0,138.1"/>
<path d="M560.0,138.1 L562.0,140.4 L562.3,143.8 L564.7,145.9 L567.9,147.7 L569.9,150.9 L573.4,152.3 L575.6,155.3 L578.1,153.3 L581.6,153.1 L583.6,150.1 L586.6,149.1 L589.6,150.4 L592.8,151.1 L595.9,152.2 L599.6,151.6 L603.2,151.1 L606.9,150.6 L608.5,147.9 L611.5,146.4 L613.1,143.6 L616.1,142.2 L619.2,141.9 L622.3,140.9 L625.6,141.2 L629.3,139.2 L633.4,138.1 L636.4,135.6 L639.7,133.4 L641.2,129.7 L641.2,125.6 L643.1,122.8 L644.8,119.9 L647.5,117.8 L649.5,114.4 L652.2,111.6"/>
<path d="M535.0,112.5 L540.0,120.0 L545.0,127.5 L552.5,132.5 L557.5,137.5 L560.0,138.8"/>
<path d="M507.2,275.8 L505.4,278.3 L503.8,280.9 L502.4,283.7 L499.2,285.1 L499.0,288.8 L496.2,290.6 L498.5,292.6 L500.3,295.2 L503.9,295.7 L505.6,298.4 L508.7,299.3 L511.8,300.3 L515.2,299.7 L518.1,301.6 L519.2,305.4 L519.7,309.4 L520.3,313.1 L521.9,316.4 L522.8,320.0"/>
<path d="M522.5,320.0 L524.2,322.6 L526.4,324.9 L528.0,327.6 L530.0,330.0 L533.0,332.0 L535.0,335.0 L537.0,338.0 L540.0,340.0 L537.0,342.0 L534.7,344.7 L532.5,347.5 L535.6,345.9 L539.2,345.9 L542.5,345.0 L545.3,347.2 L547.5,350.0 L550.4,351.5 L551.8,354.8 L554.3,356.9 L558.2,357.1 L560.0,360.0 L560.7,363.4 L562.8,366.1 L564.8,368.9 L566.5,371.8 L567.5,375.0 L570.4,377.2 L573.8,378.7 L576.6,381.0 L580.0,382.5 L580.6,385.6 L582.8,388.2 L582.4,391.7 L582.9,394.9 L585.0,397.5 L585.9,401.2 L588.5,403.9 L591.6,406.3 L592.5,410.0 L595.2,412.8 L596.6,416.3 L597.5,420.0 L597.8,423.5 L600.4,426.1 L601.5,429.3 L602.5,432.5 L605.9,434.7 L610.0,435.0"/>
<path d="M271.9,275.5 L275.0,281.0 L273.0,300.0 L270.0,320.0 L268.0,340.0 L264.0,370.0 L260.0,400.0 L257.0,418.0 L257.0,450.0 L258.0,470.0 L259.0,500.0 L259.5,522.0 L260.0,528.0"/>
<path d="M390.0,276.0 L392.5,290.0 L396.0,310.0 L400.0,327.5 L405.0,360.0 L407.5,377.5 L415.0,400.0 L420.0,412.5 L422.5,422.5 L417.5,430.0 L412.5,440.0 L415.0,452.5 L415.0,465.0 L415.0,482.5 L420.0,500.0 L430.0,505.0"/>
<path d="M430.0,506.0 L480.0,509.0 L520.0,512.5 L548.0,515.3 L549.7,526.2 L556.0,526.2 L557.5,504.4 L563.8,502.8 L580.0,507.5"/>
<path d="M296.0,492.0 L417.5,492.0"/>
<path d="M296.0,492.0 L295.0,500.0 L300.0,507.5 L305.0,515.0 L305.0,525.0 L303.0,530.0"/>
<path d="M40.0,559.1 L43.0,560.0 L45.9,561.0 L49.1,562.7 L52.0,565.0 L55.6,565.9 L58.9,566.8 L62.1,567.8 L65.4,568.8 L68.3,569.7 L71.4,569.7 L74.2,571.1 L77.1,571.8 L80.5,570.7 L83.8,569.7 L86.9,567.9 L85.1,564.7 L84.9,561.0 L87.6,558.7 L90.8,557.1 L94.5,555.4 L98.6,555.2 L99.0,558.3 L100.5,561.0 L104.5,560.9 L108.4,560.0 L110.7,563.1 L111.3,566.9 L114.2,569.7 L118.1,570.8 L121.8,572.7 L125.9,572.7 L129.8,568.8 L129.2,572.0 L129.0,575.3 L128.9,578.6 L126.9,581.1 L124.0,582.5 L128.3,583.6 L131.8,586.4 L135.0,587.8 L138.7,588.2 L141.6,590.3 L145.1,591.0 L148.3,592.4 L151.3,594.2 L153.3,598.1 L153.4,594.9 L155.2,592.2 L156.1,589.3 L157.2,586.4 L160.7,585.7 L163.7,583.8 L167.0,582.5 L170.8,584.7 L174.8,586.4 L175.8,590.3 L176.7,594.2 L179.9,591.5 L182.6,588.4 L183.5,584.4 L184.5,580.5 L182.2,578.4 L181.4,575.0 L179.4,572.6 L176.7,570.8 L179.7,572.7 L183.1,573.8 L186.5,574.7 L189.9,576.3 L193.2,578.1 L196.2,580.5 L199.7,582.1 L203.2,583.7 L206.0,586.4 L209.0,588.8 L212.6,590.2 L215.8,592.3 L219.5,593.9 L223.6,594.2 L226.4,592.1 L229.5,590.3 L227.6,594.0 L227.5,598.1 L223.3,599.4 L219.7,602.0 L215.8,604.0 L213.8,605.9"/>
<path d="M86.9,567.9 L92.7,566.9 L102.5,568.8 L104.5,572.7 L98.6,572.7 L92.7,568.8"/>
<path d="M167.0,535.6 L176.7,525.9 L188.4,529.8 L202.1,535.6 L196.2,543.4 L182.6,545.4 L168.9,541.5 L167.0,535.6"/>
<path d="M202.1,535.6 L211.9,531.7 L227.5,525.9 L240.0,523.9"/>
<path d="M196.2,543.4 L202.1,551.2 L211.9,545.4 L217.7,557.1 L208.0,564.9 L200.2,566.9 L206.0,572.7 L215.8,578.6 L223.6,584.5 L229.5,590.3"/>
<path d="M188.4,537.6 L194.3,541.5 L200.2,539.5"/>
<path d="M220.0,527.5 L223.1,526.6 L226.3,526.1 L229.4,525.2 L232.3,523.6 L235.6,523.3 L240.8,525.4 L244.3,524.8 L247.7,525.5 L251.2,525.9 L255.3,524.8 L259.6,524.4 L261.7,523.3 L266.9,524.4 L269.2,526.8 L272.1,528.5 L275.2,527.5 L276.0,524.4 L276.2,521.2 L276.4,517.0 L276.2,512.9 L277.3,509.8 L278.3,506.7 L282.5,510.8 L282.6,514.3 L283.7,517.7 L283.5,521.2 L287.7,525.4 L289.3,528.5 L290.8,531.7 L286.8,533.3 L282.5,533.8 L278.3,534.8"/>
<path d="M290.8,531.7 L299.2,529.6 L303.3,530.1"/>
<path d="M300.0,528.8 L302.9,527.7 L306.1,527.6 L309.1,526.8 L312.1,526.3 L315.0,525.0 L317.9,524.0 L320.9,523.6 L323.9,522.9 L326.9,522.6 L330.0,522.5 L333.5,523.1 L337.0,522.4 L340.5,523.3 L344.0,523.1 L347.5,523.8 L351.1,524.2 L354.5,525.2 L357.9,526.5 L361.5,526.9 L365.0,527.5 L368.3,528.0 L371.1,529.7 L374.2,530.8 L376.8,533.1 L380.0,533.8 L383.1,536.3 L386.4,538.3 L390.0,540.0 L391.9,543.0 L394.4,545.6 L397.0,548.0 L397.0,551.7 L398.0,555.2 L399.6,558.6 L400.0,562.2 L403.3,563.3 L406.8,563.3 L410.2,563.9 L413.4,565.9 L417.0,567.2 L419.9,565.6 L422.5,563.8 L425.4,562.2 L428.2,560.9 L431.0,559.8 L433.9,558.8 L436.5,556.3 L439.1,553.8 L442.3,552.0 L446.0,549.9 L449.1,547.0 L450.8,543.5 L455.9,541.9 L460.1,542.4 L464.3,541.9 L466.7,544.3 L469.8,545.6 L472.8,547.0 L475.6,548.7 L478.3,550.7 L481.3,552.0 L483.9,553.9 L485.6,556.7 L488.0,558.8 L490.6,562.1 L493.1,565.6 L495.3,568.7 L496.9,572.1 L498.2,575.7 L500.4,578.6 L503.0,581.1 L505.0,584.2 L507.6,587.6 L510.0,591.0 L514.2,591.2 L518.5,591.0 L520.9,593.1 L523.4,595.0 L525.3,597.7 L526.4,601.1 L528.0,604.4 L528.7,607.9 L528.6,611.3 L528.0,614.7 L527.0,618.0 L528.1,621.3 L528.7,624.8 L528.2,628.4 L526.2,631.5 L525.3,635.0 L524.0,638.2 L524.3,641.8 L523.6,645.1 L522.7,648.7 L521.8,652.3 L521.9,656.0"/>
<path d="M295.0,492.5 L295.0,500.0 L300.0,507.5 L305.0,515.0 L305.0,525.0"/>
<path d="M628.0,657.0 L627.0,654.0 L628.0,650.8 L627.7,647.7 L628.1,644.6 L627.0,641.6 L625.9,637.8 L625.2,633.9 L625.0,630.0 L624.4,626.9 L623.3,623.9 L621.6,621.1 L621.0,618.0 L619.8,614.7 L617.7,611.9 L616.9,608.5 L614.2,605.9 L613.3,602.5 L611.7,599.9 L611.8,596.6 L609.7,594.2 L608.4,591.5 L608.3,588.3 L606.9,585.7 L605.5,583.0 L603.7,580.5 L603.4,577.4 L602.5,574.5 L600.4,572.0 L600.2,568.9 L598.1,566.5 L597.7,563.4 L596.4,560.6 L594.9,557.8 L594.2,554.8 L594.7,551.4 L592.6,548.8 L592.7,545.5 L590.7,543.0 L589.8,540.0 L589.0,537.0 L588.6,533.9 L586.9,531.2 L586.0,527.8 L583.7,524.9 L583.4,521.2 L582.0,518.0 L581.6,513.7 L580.6,509.4 L580.6,506.2 L581.1,503.0 L583.3,500.2 L583.2,496.9 L583.8,493.8 L584.3,490.2 L585.8,486.9 L586.4,483.3 L588.0,480.0 L589.8,477.4 L590.5,474.4 L591.0,471.3 L593.0,468.8 L594.5,465.6 L594.0,461.9 L595.3,458.6 L595.7,455.1 L597.5,452.0 L599.2,449.2 L599.3,445.7 L601.3,443.0 L602.5,440.0 L603.4,436.3 L605.8,433.3 L607.5,430.0 L610.3,427.8 L612.5,425.0 L615.0,422.5 L616.2,419.3 L617.5,416.2 L618.6,413.1 L620.0,410.0 L623.7,411.4 L627.5,412.5 L630.5,410.1 L634.1,409.1 L637.5,407.5 L640.4,405.2 L644.1,404.4 L647.3,402.6 L650.0,400.0 L652.9,397.6 L656.3,396.0 L660.0,395.0 L662.8,392.8 L665.1,390.1 L666.8,386.8 L670.0,385.0 L673.5,383.7 L677.1,382.5 L680.0,380.0 L681.8,377.4 L683.5,374.8 L685.7,372.6 L687.5,370.0 L690.0,367.1 L690.4,363.1 L692.5,360.0 L694.1,357.3 L695.8,354.6 L698.3,352.7 L700.0,350.0 L702.5,347.5 L704.7,344.7 L707.3,342.3 L710.0,340.0 L712.9,337.5 L716.5,336.3 L720.0,335.0 L723.0,336.0 L726.0,335.2 L729.0,334.6 L732.0,335.9 L735.0,335.0 L738.3,334.7 L741.7,334.5 L745.0,335.0 L745.6,331.7 L747.2,329.0 L748.7,326.2 L750.2,323.3 L752.8,321.0 L753.2,317.6 L755.0,315.0 L756.2,311.4 L758.5,308.4 L760.0,305.0 L763.1,304.0 L765.1,301.3 L768.3,300.4 L770.5,298.1 L773.4,296.8 L776.0,295.0"/>
<path d="M572.5,525.0 L575.0,535.0 L577.5,545.0 L576.0,556.0 L575.0,567.5"/>
<path d="M612.3,614.2 L615.2,612.3 L619.0,618.0 L621.0,628.0 L623.0,640.0 L625.0,655.0"/>
<path d="M838.8,180.0 L840.3,189.4 L843.4,198.8 L848.1,209.7 L852.8,219.1 L859.1,230.0 L863.8,239.4 L863.8,250.3 L860.6,259.7 L854.4,262.8 L848.1,265.9 L838.8,269.1 L830.9,275.3"/>
<path d="M837.2,194.1 L843.4,205.0 L846.6,211.2"/>
<path d="M805.2,203.4 L802.8,211.2 L803.6,220.6 L810.6,223.8 L816.9,223.8 L823.1,225.3 L827.8,222.2 L835.6,223.8 L841.9,226.9 L848.1,225.3 L851.2,231.6 L848.1,239.4 L843.4,242.5 L838.8,247.2 L832.5,251.9 L824.7,255.0 L816.9,253.4 L810.6,248.8 L801.2,247.2 L790.3,247.2"/>
<path d="M816.9,211.2 L821.6,214.4 L826.2,206.6 L829.4,211.2 L834.1,206.6 L838.8,211.2 L841.9,215.9"/>
<path d="M832.5,230.0 L830.9,237.8 L835.6,239.4 L837.2,231.6"/>
<path d="M788.8,267.5 L795.0,275.3 L804.4,280.0 L813.8,276.9 L816.9,272.2 L810.6,265.9 L807.5,259.7 L815.3,258.1 L807.5,251.9"/>
<path d="M830.9,275.3 L823.1,276.9 L827.8,280.0 L821.6,283.1 L813.8,287.8 L804.4,287.8 L793.4,289.4 L785.6,290.9 L777.8,294.1 L770.0,295.6"/>
<path d="M602.5,440.0 L606.0,432.0 L610.0,428.0 L612.0,420.0 L618.0,418.0 L622.0,412.0"/>
<path d="M216.8,544.4 L230.4,533.7" stroke-dasharray="4,3"/>
<path d="M222.6,575.7 L232.4,568.8" stroke-dasharray="4,3"/>
<path d="M245.0,533.0 L277.0,534.0" stroke-dasharray="4,3"/>
<path d="M231.0,549.0 L232.0,565.0" stroke-dasharray="4,3"/>
<path d="M664.0,155.0 L670.0,159.0 L676.0,163.0" stroke-width="5"/>
<path d="M515.5,295.5 L519.5,299.0 L519.0,305.0" stroke-width="5"/>
<path d="M366.5,352.5 L362.0,356.5 L359.5,360.0" stroke-width="5"/>
<path d="M347.5,381.5 L349.5,388.0 L352.0,393.5" stroke-width="5"/>
<path d="M467.0,305.5 L471.0,305.0 L471.0,309.0 L468.0,313.0 L464.0,316.0 L461.5,318.5" stroke-width="5"/>
<path d="M291.0,283.0 L304.0,282.5 L316.7,286.0 L325.0,292.0 L330.0,297.0" stroke-width="5"/>
<path d="M182.5,112.5 L185.4,112.2 L185.2,116.5 L187.4,117.4 L190.0,117.5 L192.9,117.5 L194.7,119.8 L197.0,121.0 L198.8,122.4 L199.6,124.7 L200.8,126.8 L204.9,125.7 L205.0,128.8 L208.7,129.8 L206.9,134.6 L210.0,136.0 L211.2,138.0 L210.4,140.8 L212.5,142.5 L214.4,145.4 L211.5,146.9 L209.5,148.7 L210.0,151.2 L212.5,152.8 L210.7,156.9 L214.0,158.0 L214.1,161.5 L217.5,162.5 L221.1,161.5 L223.6,162.8 L225.0,166.2 L225.0,168.5 L223.2,171.0 L226.3,172.9 L227.4,175.1 L226.2,177.5 L224.9,179.4 L224.9,182.4 L222.6,183.4 L220.0,184.0 L218.6,185.8 L216.7,187.2 L215.0,188.8 L213.1,191.3 L210.6,192.5 L207.5,192.5 L208.8,195.1 L207.4,197.5 L207.0,200.0 L207.4,202.8 L208.1,205.6 L205.0,207.5 L202.6,209.5 L203.4,212.4 L203.0,215.0 L201.3,217.2 L202.5,220.6 L200.0,222.5 L196.9,224.4 L196.9,227.0 L200.0,230.5 L197.5,232.5 L195.2,235.0 L192.0,236.0 L189.0,237.1 L187.5,240.0 L185.1,241.3 L182.7,242.6 L183.0,246.0 L182.4,248.3 L179.4,249.6 L180.0,252.5 L178.9,254.9 L180.5,257.6 L178.8,260.0 L177.1,262.3 L178.8,265.0 L175.5,266.4 L175.0,270.0 L173.7,272.5 L172.5,275.0 L170.7,276.4 L171.3,280.0 L168.0,280.0 L167.6,283.2 L165.0,285.0 L162.6,286.3 L163.4,289.2 L162.0,291.0 L163.2,293.6 L160.8,295.4 L159.5,297.5 L160.0,300.0 L158.3,302.2 L159.0,305.2 L157.5,307.5 L155.8,309.6 L153.7,311.2 L150.9,312.1 L150.0,315.0 L148.7,316.8 L148.0,319.1 L146.3,320.7 L145.0,322.5 L145.8,325.7 L144.5,327.6 L140.4,327.5 L140.0,330.0 L136.8,330.9 L137.6,333.8 L137.5,336.2 L137.5,338.8 L135.0,340.0 L134.4,342.5 L131.3,344.4 L131.8,347.2 L132.5,350.0 L132.3,352.5 L130.6,355.0 L133.9,357.5 L132.5,360.0 L133.1,362.5 L131.5,365.6 L134.0,367.6 L135.0,370.0 L134.4,372.6 L134.5,375.4 L132.5,377.5 L132.3,380.0 L130.1,382.5 L135.1,385.0 L131.0,387.5 L132.5,390.0 L131.5,392.9 L131.8,395.5 L133.2,397.8 L135.0,400.0 L134.1,402.9 L136.2,405.0 L136.6,407.6 L137.5,410.0 L138.8,411.8 L141.6,413.0 L138.8,416.9 L141.2,418.2 L142.5,420.0 L142.5,422.7 L140.0,423.7 L138.8,425.7 L137.5,427.5 L137.2,429.9 L136.2,432.0 L134.3,433.7 L132.9,435.6 L132.5,438.0 L130.4,439.5 L129.4,441.8 L129.5,445.2 L126.0,445.4 L126.1,448.1 L125.2,450.1 L122.2,451.0 L119.8,452.2 L118.9,454.3 L117.8,456.3 L118.0,459.0 L115.7,460.9 L117.7,464.1 L114.0,465.5 L114.1,468.2 L114.2,470.8 L114.8,474.4 L113.8,477.1 L110.3,478.6 L112.7,481.1 L108.6,483.1 L111.1,485.5 L111.7,487.9 L108.8,490.0 L109.3,492.3" stroke-width="3.3"/>
<path d="M795.2,112.0 L799.8,116.7 L806.9,123.8 L812.7,128.4 L818.6,133.1 L823.3,136.6 L826.8,140.2 L825.6,144.8 L819.8,146.0 L818.6,149.5 L823.3,149.5 L825.6,148.4" stroke-width="3.3"/>
<path d="M816.3,112.0 L825.6,116.7 L826.8,121.4 L823.3,126.1 L823.3,133.1 L823.3,136.6" stroke-width="3.3"/>
<path d="M801.0,137.8 L806.9,146.0 L812.7,151.9 L819.8,155.4 L823.3,160.1 L824.5,165.9 L820.9,168.3" stroke-width="3.3"/>
<path d="M777.6,149.5 L789.3,150.7 L797.5,151.9 L806.9,156.6 L809.2,162.4 L813.9,168.3 L815.1,173.0 L812.7,175.3 L820.9,174.1 L823.3,169.5 L825.6,169.5 L836.2,170.6 L839.7,175.3 L840.9,181.2 L842.0,187.0 L844.4,195.0" stroke-width="3.3"/>
<path d="M844.4,114.4 L852.6,114.4 L853.8,120.2 L849.1,124.9 L844.4,133.1 L840.9,139.0 L838.5,146.0 L837.3,153.0 L839.7,158.9 L843.2,161.3 L846.7,154.2 L846.7,146.0 L851.4,139.0 L853.8,143.7 L856.1,136.6 L859.6,128.4 L863.1,122.6 L865.5,116.7 L865.5,112.0" stroke-width="3.3"/>
<path d="M867.8,112.0 L872.5,112.0 L869.0,119.1" stroke-width="3.3"/>
<path d="M825.6,107.3 L831.5,112.0 L833.8,109.7" stroke-width="3.3"/>
<path d="M708.0,181.0 L714.0,184.0 L720.0,186.0 L728.0,188.0 L735.0,189.0 L745.0,190.0 L758.0,191.0" stroke-width="4.2"/>
</g>
<!--/BORDERS-->
<!--CONTOURS-->
<g fill="none" stroke="#000" stroke-width="1.4" stroke-linejoin="round">
<path d="M472.5,112.0 L470.0,125.0 L465.0,135.0 L455.0,147.5 L442.5,162.5 L430.0,177.5 L420.0,187.5 L410.0,197.5 L397.5,205.0 L387.5,215.0 L377.5,225.0 L365.0,232.5 L352.5,240.0 L337.5,252.5 L322.5,262.5 L305.0,270.0 L290.0,277.5 L280.0,282.0 L270.0,290.0 L252.5,305.0 L240.0,311.0 L227.5,320.0 L215.8,327.8 L200.2,337.6 L192.3,345.4 L188.4,358.0 L185.6,360.6"/>
<path d="M157.2,365.9 L147.4,364.9 L139.6,366.9 L133.8,370.8 L126.0,378.6 L118.0,386.4 L114.2,394.2 L112.3,406.0 L106.4,415.7 L94.7,425.5 L86.9,429.4 L69.3,426.4 L51.7,421.6 L40.0,419.6"/>
<path d="M631.0,112.0 L628.8,122.5 L619.4,133.4 L606.9,146.0 L596.0,153.8 L591.2,161.6 L589.7,169.4 L592.8,175.6 L600.6,181.1 L611.6,181.9 L625.6,181.1 L641.2,181.1 L650.6,177.2 L660.0,172.5 L669.4,167.8 L685.0,161.6 L700.6,156.9 L711.6,156.1"/>
<path d="M740.0,152.5 L760.0,146.0 L783.4,140.2 L811.6,132.0 L821.0,128.4 L830.3,123.8 L842.0,116.7 L849.0,109.7"/>
<path d="M282.5,656.0 L270.0,642.5 L257.5,627.5 L245.0,607.5 L237.5,587.5 L237.5,562.5 L240.0,545.0 L245.0,525.0 L253.0,510.0 L260.0,500.0 L268.0,487.0 L275.0,475.0 L280.0,465.0 L292.5,452.5 L307.5,437.5 L322.5,420.0 L337.5,400.0 L352.5,387.5 L370.0,375.0 L385.0,370.0 L400.0,366.8 L417.6,358.0 L435.0,349.2 L452.7,340.4 L470.3,331.6 L487.9,324.6 L505.4,317.6 L514.2,312.3 L523.0,307.0 L533.6,305.3 L549.4,303.5 L567.0,302.6 L575.8,300.9 L590.0,297.5 L607.5,288.0 L632.5,282.5 L660.0,275.0 L682.5,265.0 L700.0,262.9 L713.7,257.4 L741.0,247.9 L768.4,241.0 L795.7,235.5 L828.5,230.0 L850.4,226.0 L864.0,219.1 L891.4,211.0 L918.8,200.0 L940.0,191.0 L960.0,183.0 L978.0,177.0"/>
<path d="M978.0,327.0 L960.0,337.5 L940.0,352.5 L922.5,370.0 L910.0,385.0 L899.0,400.0 L889.0,413.5 L868.6,427.1 L841.6,447.4 L821.2,467.7 L807.7,491.4 L794.2,528.6 L787.4,562.5 L790.8,582.8 L795.9,589.6 L800.9,609.9 L807.7,616.7 L828.0,625.1 L855.1,637.0 L878.0,646.0 L892.3,653.9 L895.0,657.0"/>
</g>
<g font-family="Liberation Sans, sans-serif" font-size="11.5" fill="#000" text-anchor="middle"><rect x="158.5" y="359.5" width="27.5" height="10.5" fill="#fff"/><text x="172.2" y="369.2">1020</text><rect x="712" y="149" width="28" height="11" fill="#fff"/><text x="726" y="159.2">1016</text></g>
<!--/CONTOURS-->
</g>

<!-- frame -->
<rect x="47" y="113" width="930" height="542" fill="none" stroke="#000" stroke-width="2"/>
<g stroke="#000" stroke-width="2">
<path d="M40,113H47M40,167.2H47M40,221.4H47M40,275.6H47M40,329.8H47M40,384H47M40,438.2H47M40,492.4H47M40,546.6H47M40,600.8H47M40,655H47"/>
<path d="M93.5,655V661M186.5,655V661M279.5,655V661M372.5,655V661M465.5,655V661M558.5,655V661M651.5,655V661M744.5,655V661M837.5,655V661M930.5,655V661"/>
</g>
<g class="t" font-size="18" text-anchor="end">
<text x="34.5" y="119.8">38N</text>
<text x="34.5" y="174">37N</text>
<text x="34.5" y="228.2">36N</text>
<text x="34.5" y="282.4">35N</text>
<text x="34.5" y="336.6">34N</text>
<text x="34.5" y="390.8">33N</text>
<text x="34.5" y="445">32N</text>
<text x="34.5" y="499.2">31N</text>
<text x="34.5" y="553.4">30N</text>
<text x="34.5" y="607.6">29N</text>
<text x="34.5" y="661.8">28N</text>
</g>
<g class="t" font-size="17.5" text-anchor="middle" stroke="#000" stroke-width="0.5">
<text x="93.5" y="678.3" textLength="32.5" lengthAdjust="spacingAndGlyphs">92W</text>
<text x="186.5" y="678.3" textLength="32.5" lengthAdjust="spacingAndGlyphs">90W</text>
<text x="279.5" y="678.3" textLength="32.5" lengthAdjust="spacingAndGlyphs">88W</text>
<text x="372.5" y="678.3" textLength="32.5" lengthAdjust="spacingAndGlyphs">86W</text>
<text x="465.5" y="678.3" textLength="32.5" lengthAdjust="spacingAndGlyphs">84W</text>
<text x="558.5" y="678.3" textLength="32.5" lengthAdjust="spacingAndGlyphs">82W</text>
<text x="651.5" y="678.3" textLength="32.5" lengthAdjust="spacingAndGlyphs">80W</text>
<text x="744.5" y="678.3" textLength="32.5" lengthAdjust="spacingAndGlyphs">78W</text>
<text x="837.5" y="678.3" textLength="32.5" lengthAdjust="spacingAndGlyphs">76W</text>
<text x="930.5" y="678.3" textLength="32.5" lengthAdjust="spacingAndGlyphs">74W</text>
</g>

<!-- titles -->
<text class="t h" x="112.5" y="20.5" font-size="19" textLength="798" lengthAdjust="spacing">Depth of Saturated, Symmetrically Unstable Atmosphere (shaded, mb):</text>
<text class="r h" x="322" y="48" font-size="20" textLength="194" lengthAdjust="spacing">g(f+ζ<tspan font-size="11" dy="3">g</tspan><tspan dy="-3">)(d</tspan><tspan font-style="italic" font-weight="400">θ</tspan><tspan font-size="11" dy="3">E</tspan><tspan dy="-3">/dz)</tspan></text>
<rect x="301.5" y="57" width="234.5" height="2.2" fill="#f00082"/>
<text class="r h" x="347" y="79.7" font-size="20" textLength="144" lengthAdjust="spacing">f(dV<tspan font-size="11" dy="3">g</tspan><tspan dy="-3">/dz)²</tspan><tspan font-style="italic" font-weight="400">θ</tspan><tspan font-size="11" dy="3">E</tspan></text>
<text class="r h" x="561.5" y="66.7" font-size="21" textLength="232.5" lengthAdjust="spacing">&lt; 1 &amp; RH &gt; 95%</text>
<text class="t h" x="171.3" y="106" font-size="18.5" textLength="681.5" lengthAdjust="spacing">Model Forecast CAPE (shaded, J/kg) &amp; MSLP (contour, mb)</text>

<text class="r h" x="161" y="698.2" font-size="19" textLength="704.4" lengthAdjust="spacing">12Z05MAR2026 12km NAM 75hr forecast Valid 15Z08MAR2026</text>
<text class="t h" x="99" y="715.3" font-size="18" textLength="360" lengthAdjust="spacing">Saturated CSI Layer Depth (mb)</text>
<text class="t h" x="534.6" y="716" font-size="19" textLength="420.6" lengthAdjust="spacing">CAPE (J/kg) 180−0mb above ground</text>

<!-- CSI legend -->
<g stroke="#000" stroke-width="1.5">
<polygon points="32.3,730.7 94.5,724.8 94.5,736.4" fill="#fff"/>
<rect x="94.5" y="724.8" width="61.4" height="11.6" fill="#00dc00"/>
<rect x="155.9" y="724.8" width="61.4" height="11.6" fill="#00d28c"/>
<rect x="217.3" y="724.8" width="61.4" height="11.6" fill="#00c8c8"/>
<rect x="278.7" y="724.8" width="61.4" height="11.6" fill="#00a0ff"/>
<rect x="340.1" y="724.8" width="61.4" height="11.6" fill="#1e3cff"/>
<rect x="401.5" y="724.8" width="61.4" height="11.6" fill="#8200dc"/>
<polygon points="462.9,724.8 526,730.7 462.9,736.4" fill="#000"/>
</g>
<g class="t" font-size="11" text-anchor="middle">
<text x="95" y="747.3">100</text>
<text x="156" y="747.3">150</text>
<text x="217.5" y="747.3">200</text>
<text x="279" y="747.3">300</text>
<text x="340.5" y="747.3">400</text>
<text x="402" y="747.3">500</text>
<text x="463" y="747.3">600</text>
</g>

<!-- CAPE legend -->
<g stroke="#000" stroke-width="1.5">
<polygon points="567,730.7 641,724.8 641,736.4" fill="#fff"/>
<rect x="641" y="724.8" width="74.7" height="11.6" fill="#e6dc32"/>
<rect x="715.7" y="724.8" width="74.7" height="11.6" fill="#e6af2d"/>
<rect x="790.4" y="724.8" width="74.7" height="11.6" fill="#f08228"/>
<rect x="865.1" y="724.8" width="74.7" height="11.6" fill="#fa3c3c"/>
<polygon points="939.8,724.8 1016,730.7 939.8,736.4" fill="#f00082"/>
</g>
<g class="t" font-size="11" text-anchor="middle">
<text x="641" y="747.3">50</text>
<text x="715.7" y="747.3">100</text>
<text x="790.4" y="747.3">250</text>
<text x="865.1" y="747.3">500</text>
<text x="939.8" y="747.3">1000</text>
</g>

<text class="t b4" x="10.2" y="763.3" font-size="12" textLength="381" lengthAdjust="spacing">In regions where shading overlaps, CAPE is shown.</text>
<text class="h" x="785" y="764.5" font-size="16" fill="#3c50ff" stroke="#3c50ff" textLength="233" lengthAdjust="spacing">moe.met.fsu.edu/banding</text>
</svg>
</body></html>
